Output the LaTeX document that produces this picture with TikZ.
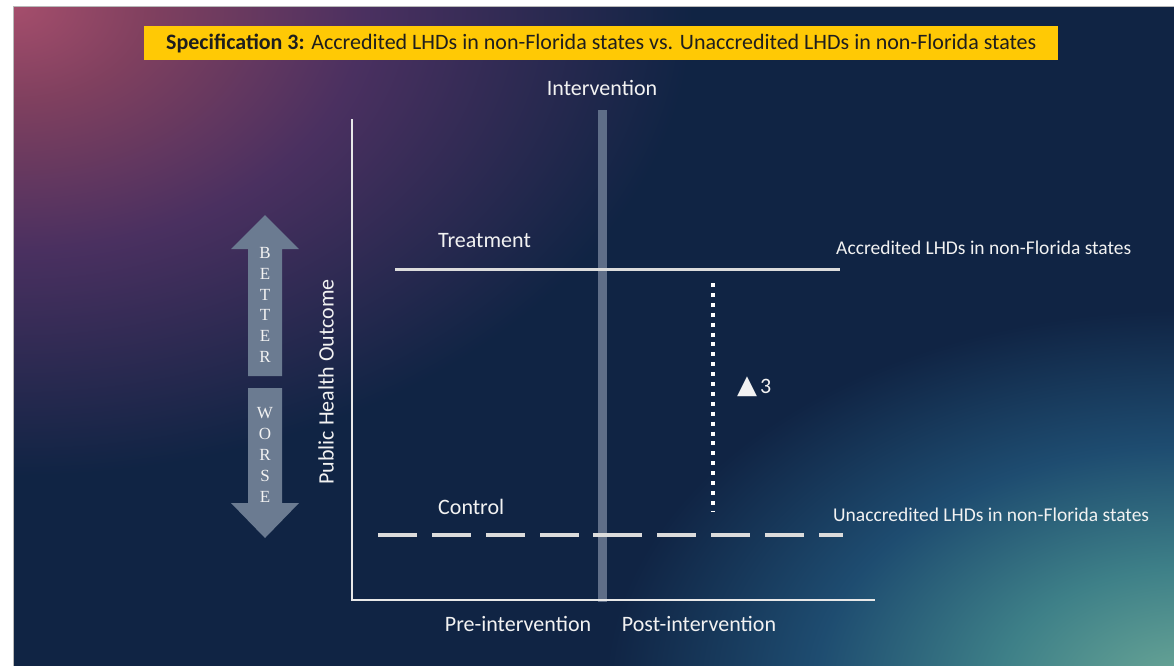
\documentclass[tikz,border=0pt]{standalone}
\usepackage{fontspec}
\setmainfont{Carlito}
\newfontfamily\letterfont{Liberation Serif}
\newfontfamily\symfont{DejaVu Sans}
\definecolor{bgnavy}{HTML}{102444}
\definecolor{glowPinkA}{HTML}{A54E6C}
\definecolor{glowPinkB}{HTML}{80405F}
\definecolor{glowPinkC}{HTML}{4A3060}
\definecolor{glowTealA}{HTML}{6CA897}
\definecolor{glowTealB}{HTML}{3E8088}
\definecolor{glowTealC}{HTML}{1E4C70}
\definecolor{bannerYellow}{HTML}{FFC905}
\definecolor{bannerText}{HTML}{1E1E1E}
\definecolor{labelwhite}{HTML}{F2F2F2}
\definecolor{linegray}{HTML}{DCDCDC}
\definecolor{axisgray}{HTML}{E8E8E8}
\definecolor{barblue}{HTML}{5F6E88}
\definecolor{arrowgray}{HTML}{6B7B91}
\pgfdeclareradialshading{pinkglow}{\pgfpoint{0bp}{0bp}}{color(0bp)=(glowPinkA); color(5bp)=(glowPinkB); color(13bp)=(glowPinkC); color(25bp)=(bgnavy); color(50bp)=(bgnavy)}
\pgfdeclareradialshading{tealglow}{\pgfpoint{0bp}{0bp}}{color(0bp)=(glowTealA); color(8bp)=(glowTealB); color(16bp)=(glowTealC); color(25bp)=(bgnavy); color(50bp)=(bgnavy)}
\begin{document}
\begin{tikzpicture}[x=1pt,y=-1pt,
  mainlbl/.style={text=labelwhite, font=\fontsize{22}{26}\selectfont, inner sep=0pt},
  sidelbl/.style={text=labelwhite, font=\fontsize{19.5}{23}\selectfont, inner sep=0pt, anchor=west},
  arrowtext/.style={text=labelwhite, font=\letterfont\fontsize{17}{20.8}\selectfont, align=center, inner sep=0pt},
  axisline/.style={draw=axisgray, line width=2.2pt},
  treatline/.style={draw=linegray, line width=3pt},
  ctrlline/.style={draw=linegray, line width=3.6pt},
  dotline/.style={draw=white, line width=4pt, dash pattern=on 4pt off 5.9pt},
  bigarrow/.style={fill=arrowgray, draw=none}]
\useasboundingbox (0,0) rectangle (1174,665);
% background
\fill[white] (0,0) rectangle (1174,665);
\fill[bgnavy] (13,6) rectangle (1185,675);
\begin{scope}
  \clip (13,6) rectangle (1185,675);
  \shade[shading=pinkglow] (13,6) ellipse [x radius=680, y radius=470];
  \shade[shading=tealglow] (1185,690) ellipse [x radius=580, y radius=380];
\end{scope}
\draw[gray!55, line width=1pt] (13.5,675) -- (13.5,6.5) -- (1185,6.5);
% banner
\node[anchor=west, fill=bannerYellow, text=bannerText, minimum height=34pt, inner xsep=22pt, inner ysep=0pt,
      font=\fontsize{22}{26}\selectfont] (title) at (144,43)
  {\textbf{Specification 3:} Accredited LHDs in non-Florida states vs. Unaccredited LHDs in non-Florida states};
% coordinates
\coordinate (yTop) at (352,119);
\coordinate (origin) at (352,600);
\coordinate (xEnd) at (875,600);
\coordinate (barTop) at (598,110);
\coordinate (barBot) at (607,602);
\coordinate (treatL) at (395,269);
\coordinate (treatR) at (840,269);
\coordinate (ctrlL) at (378,535);
\coordinate (ctrlM) at (642,535);
\coordinate (ctrlN) at (657,535);
\coordinate (ctrlR) at (843,535);
\coordinate (dotTop) at (713,283);
\coordinate (dotBot) at (713,511);
% intervention bar
\fill[barblue] (barTop) rectangle (barBot);
% axes
\draw[axisline] (yTop) -- (origin) -- (xEnd);
% treatment line
\draw[treatline] (treatL) -- (treatR);
% control line
\draw[ctrlline, dash pattern=on 39pt off 15pt on 39pt off 15pt on 39pt off 15pt on 39pt off 14pt on 49pt off 60pt] (ctrlL) -- (ctrlM);
\draw[ctrlline, dash pattern=on 39pt off 15pt] (ctrlN) -- (ctrlR);
% dotted difference
\draw[dotline] (dotTop) -- (dotBot);
% labels
\node[mainlbl] (interv) at (602,88) {Intervention};
\node[mainlbl, anchor=west] (treat) at (438,241) {Treatment};
\node[mainlbl, anchor=west] (control) at (438,507) {Control};
\node[mainlbl] (pre) at (518,624) {Pre-intervention};
\node[mainlbl] (post) at (699,624) {Post-intervention};
\node[mainlbl, rotate=90] (outcome) at (326,382) {Public Health Outcome};
\node[sidelbl] (acc) at (836,248) {Accredited LHDs in non-Florida states};
\node[sidelbl] (unacc) at (833,515) {Unaccredited LHDs in non-Florida states};
\node[text=labelwhite, inner sep=0pt, anchor=west] (delta) at (737,387)
  {{\symfont\fontsize{26}{30}\selectfont ▲}\hspace{3pt}{\fontsize{22}{26}\selectfont 3}};
% better / worse arrows
\fill[bigarrow] (265,215) -- (299,249) -- (282,249) -- (282,376) -- (248,376) -- (248,249) -- (231,249) -- cycle;
\fill[bigarrow] (248,388) -- (282,388) -- (282,503) -- (299,503) -- (265,538) -- (231,503) -- (248,503) -- cycle;
\node[arrowtext] (better) at (265,305) {B\\E\\T\\T\\E\\R};
\node[arrowtext] (worse) at (265,455) {W\\O\\R\\S\\E};
\end{tikzpicture}
\end{document}
